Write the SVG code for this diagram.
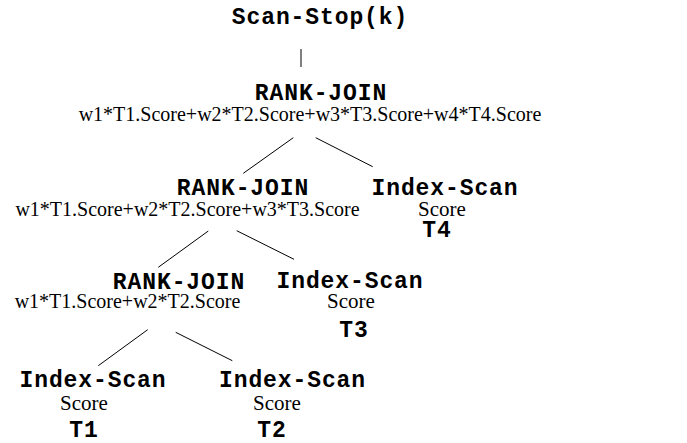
<svg xmlns="http://www.w3.org/2000/svg" width="687" height="443" viewBox="0 0 687 443">
<style>
.m{font-family:"Liberation Mono","Courier New",monospace;font-weight:bold;font-size:23px;letter-spacing:0.9px;fill:#000;text-anchor:middle}
.s{font-family:"Liberation Serif","Times New Roman",serif;font-size:20px;fill:#000;text-anchor:middle}
.sc{font-family:"Liberation Serif","Times New Roman",serif;font-size:21px;fill:#000;text-anchor:middle}
.e{stroke:#000;stroke-width:1;fill:none}
</style>
<rect width="687" height="443" fill="#fff"/>
<g id="scanstop"><text class="m" x="320" y="24">Scan-Stop(k)</text></g>
<g id="rj1"><text class="m" x="321" y="100">RANK-JOIN</text><text class="s" x="310" y="121">w1*T1.Score+w2*T2.Score+w3*T3.Score+w4*T4.Score</text></g>
<g id="rj2"><text class="m" x="243" y="195">RANK-JOIN</text><text class="s" x="187.5" y="216">w1*T1.Score+w2*T2.Score+w3*T3.Score</text></g>
<g id="is4"><text class="m" x="445" y="195">Index-Scan</text><text class="sc" x="442" y="216">Score</text><text class="m" x="437" y="237">T4</text></g>
<g id="rj3"><text class="m" x="179" y="289">RANK-JOIN</text><text class="s" x="127.5" y="308">w1*T1.Score+w2*T2.Score</text></g>
<g id="is3"><text class="m" x="350" y="288">Index-Scan</text><text class="sc" x="351" y="308">Score</text><text class="m" x="354" y="337">T3</text></g>
<g id="is1"><text class="m" x="93" y="387">Index-Scan</text><text class="sc" x="84" y="410">Score</text><text class="m" x="84" y="437">T1</text></g>
<g id="is2"><text class="m" x="292.5" y="387">Index-Scan</text><text class="sc" x="277" y="410">Score</text><text class="m" x="272" y="437">T2</text></g>
<g id="edges">
<line class="e" x1="301" y1="49" x2="301" y2="67"/>
<line class="e" x1="293.3" y1="137.7" x2="243.3" y2="173.3"/>
<line class="e" x1="315.7" y1="137.7" x2="372.7" y2="166.7"/>
<line class="e" x1="208.3" y1="231" x2="158.3" y2="267.3"/>
<line class="e" x1="236.7" y1="230.7" x2="294" y2="259.3"/>
<line class="e" x1="147.7" y1="329.7" x2="98.3" y2="365.7"/>
<line class="e" x1="175.7" y1="332.3" x2="232.3" y2="360.7"/>
</g>
</svg>
